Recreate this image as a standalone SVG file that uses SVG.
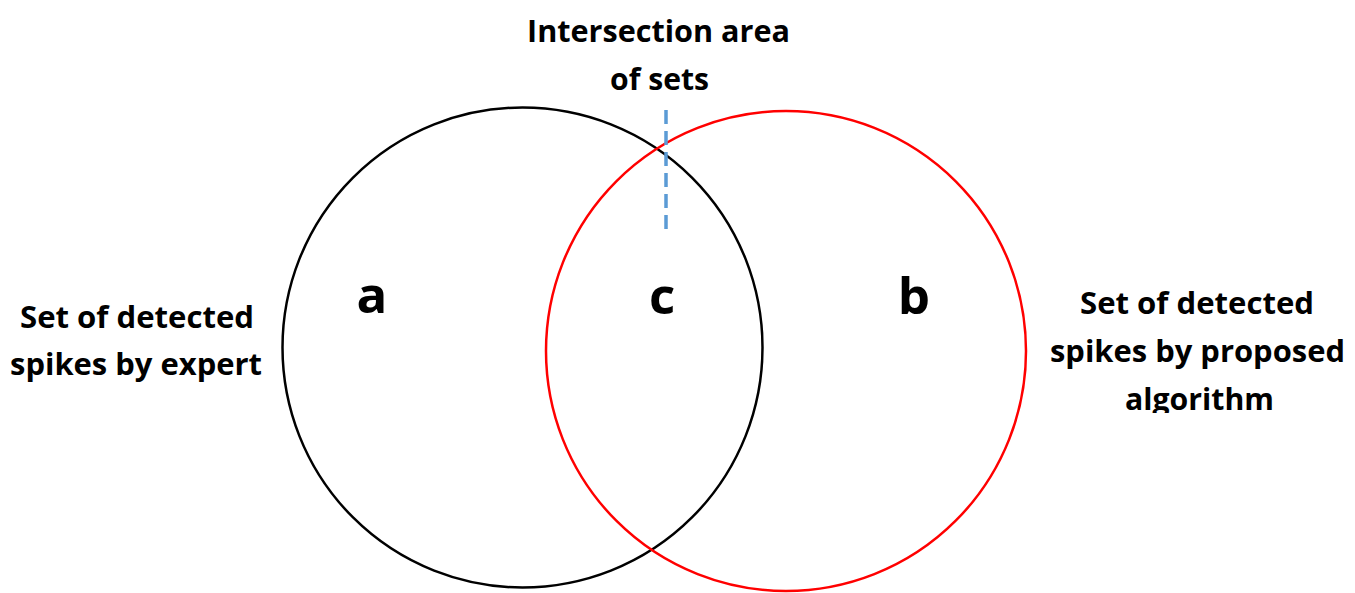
<svg xmlns="http://www.w3.org/2000/svg" width="1355" height="593" viewBox="0 0 1355 593">
<style>
.lbl{font-family:"Open Sans","Liberation Sans",sans-serif;font-weight:bold;font-size:30px;fill:#000;text-anchor:middle}
.big{font-family:"Open Sans","Liberation Sans",sans-serif;font-weight:bold;font-size:51px;fill:#000;text-anchor:middle}
.set{fill:none;stroke-width:2.5}
</style>
<defs>
<clipPath id="clipAlg"><rect x="1000" y="280" width="355" height="133"/></clipPath>
</defs>
<rect width="1355" height="593" fill="#fff"/>
<g id="setA"><circle class="set" cx="522.5" cy="347.5" r="240" stroke="#000"/></g>
<g id="setB"><circle class="set" cx="786" cy="351" r="240" stroke="#f00"/></g>
<g id="connectors"><line x1="666" y1="110" x2="666" y2="230" stroke="#5B9BD5" stroke-width="3.5" stroke-dasharray="14 7"/></g>
<g id="label-a"><text class="big" x="372" y="313">a</text></g>
<g id="label-c"><text class="big" x="662" y="314">c</text></g>
<g id="label-b"><text class="big" x="914" y="314">b</text></g>
<g id="label-intersection">
<text class="lbl" x="658.5" y="42" textLength="263" lengthAdjust="spacingAndGlyphs">Intersection area</text>
<text class="lbl" x="659.5" y="90" textLength="99" lengthAdjust="spacingAndGlyphs">of sets</text>
</g>
<g id="label-expert">
<text class="lbl" x="137" y="328" textLength="234" lengthAdjust="spacingAndGlyphs">Set of detected</text>
<text class="lbl" x="136" y="375" textLength="252" lengthAdjust="spacingAndGlyphs">spikes by expert</text>
</g>
<g id="label-algorithm">
<text class="lbl" x="1197" y="314" textLength="234" lengthAdjust="spacingAndGlyphs">Set of detected</text>
<text class="lbl" x="1197.5" y="362" textLength="295" lengthAdjust="spacingAndGlyphs">spikes by proposed</text>
<text class="lbl" x="1199.5" y="410" textLength="149" lengthAdjust="spacingAndGlyphs" clip-path="url(#clipAlg)">algorithm</text>
</g>
</svg>
